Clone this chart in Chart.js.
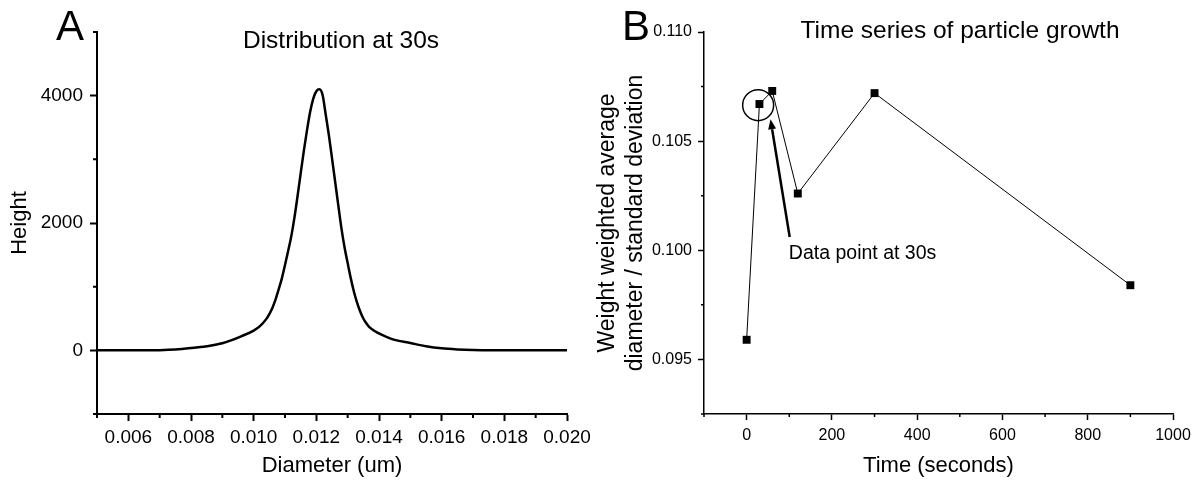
<!DOCTYPE html>
<html>
<head>
<meta charset="utf-8">
<script src="https://cdn.jsdelivr.net/npm/chart.js@4.4.1/dist/chart.umd.min.js"></script>
<style>
  body { margin: 0; background: #ffffff; }
  #wrap { position: relative; width: 1204px; height: 489px; overflow: hidden; }
  canvas { position: absolute; top: 0; }
  #dist-chart { left: 0; }
  #growth-chart { left: 585px; }
</style>
</head>
<body>
<div id="wrap">
  <canvas id="dist-chart" width="600" height="489"></canvas>
  <canvas id="growth-chart" width="619" height="489"></canvas>
</div>
<script>
// --- Panel A: size distribution at 30 s ---
const DIAMETER = [0.0050, 0.0060, 0.0070, 0.0075, 0.0080, 0.0085, 0.0090, 0.0093, 0.0096, 0.0100,
  0.0102, 0.0104, 0.0105, 0.0106, 0.0107, 0.0108, 0.0109, 0.0110, 0.0111, 0.0112,
  0.0113, 0.0114, 0.0115, 0.0116, 0.0117, 0.0118, 0.0119, 0.0120, 0.0121, 0.0122,
  0.0123, 0.0124, 0.0125, 0.0126, 0.0127, 0.0128, 0.0129, 0.0130, 0.0131, 0.0132,
  0.0133, 0.0134, 0.0135, 0.0136, 0.0137, 0.0140, 0.0142, 0.0145, 0.0150, 0.0155,
  0.0160, 0.0165, 0.0170, 0.0180, 0.0190, 0.0200];
const HEIGHT = [0, 0, 3, 12, 35, 65, 110, 160, 220, 310,
  380, 490, 570, 670, 800, 960, 1130, 1340, 1560, 1790,
  2080, 2420, 2780, 3130, 3450, 3740, 3950, 4070, 4100, 4010,
  3700, 3380, 3020, 2650, 2280, 1920, 1620, 1370, 1130, 920,
  750, 610, 500, 420, 360, 265, 220, 165, 115, 65,
  32, 15, 6, 2, 0, 0];
const DIAM_TICKS = [0.006, 0.008, 0.010, 0.012, 0.014, 0.016, 0.018, 0.020];
const DIAM_MINOR = [0.005, 0.007, 0.009, 0.011, 0.013, 0.015, 0.017, 0.019];
const HEIGHT_TICKS = [0, 2000, 4000];
const HEIGHT_MINOR = [-1000, 1000, 3000, 5000];

// --- Panel B: time series ---
const TIME_S = [0, 30, 60, 120, 300, 900];
const RATIO = [0.0959, 0.1067, 0.1073, 0.1026, 0.1072, 0.0984];
const TIME_TICKS = [0, 200, 400, 600, 800, 1000];
const TIME_MINOR = [-100, 100, 300, 500, 700, 900];
const RATIO_TICKS = [0.095, 0.100, 0.105, 0.110];
const RATIO_MINOR = [0.0925, 0.0975, 0.1025, 0.1075];

// annotation anchors (data units)
const CIRCLE_AT = [27, 0.10665];
const ARROW_TIP = [56, 0.1060];
const ARROW_TAIL = [101, 0.10061];
const NOTE_AT = [99, 0.09986];
const NOTE_TEXT = 'Data point at 30s';

const FONT = "'Liberation Sans', Arial, sans-serif";
Chart.defaults.font.family = FONT;
Chart.defaults.color = '#000';

function minorTicksPlugin(xVals, yVals, len, width) {
  return {
    id: 'minorTicks',
    afterDraw(chart) {
      const { ctx } = chart;
      const x = chart.scales.x, y = chart.scales.y;
      ctx.save();
      ctx.strokeStyle = '#000';
      ctx.lineWidth = width;
      ctx.beginPath();
      xVals.forEach(v => {
        const px = x.getPixelForValue(v);
        ctx.moveTo(px, x.top);
        ctx.lineTo(px, x.top + len);
      });
      yVals.forEach(v => {
        const py = y.getPixelForValue(v);
        ctx.moveTo(y.right, py);
        ctx.lineTo(y.right - len, py);
      });
      ctx.stroke();
      ctx.restore();
    }
  };
}

function headingPlugin(letter, letterX, title, titleX, titleY) {
  return {
    id: 'heading',
    afterDraw(chart) {
      const { ctx } = chart;
      ctx.save();
      ctx.fillStyle = '#000';
      ctx.textBaseline = 'alphabetic';
      ctx.textAlign = 'left';
      ctx.font = '42px ' + FONT;
      ctx.fillText(letter, letterX, 40);
      ctx.textAlign = 'center';
      ctx.font = '24.5px ' + FONT;
      ctx.fillText(title, titleX, titleY);
      ctx.restore();
    }
  };
}

const annotationPlugin = {
  id: 'note30s',
  afterDatasetsDraw(chart) {
    const { ctx } = chart;
    const x = chart.scales.x, y = chart.scales.y;
    ctx.save();
    ctx.strokeStyle = '#000';
    ctx.fillStyle = '#000';
    // circle round the 30 s point
    ctx.lineWidth = 1.5;
    ctx.beginPath();
    ctx.arc(x.getPixelForValue(CIRCLE_AT[0]), y.getPixelForValue(CIRCLE_AT[1]), 15.5, 0, Math.PI * 2);
    ctx.stroke();
    // arrow
    const hx = x.getPixelForValue(ARROW_TIP[0]), hy = y.getPixelForValue(ARROW_TIP[1]);
    const tx = x.getPixelForValue(ARROW_TAIL[0]), ty = y.getPixelForValue(ARROW_TAIL[1]);
    const ang = Math.atan2(hy - ty, hx - tx);
    const headLen = 10, headW = 4;
    const bx = hx - headLen * Math.cos(ang), by = hy - headLen * Math.sin(ang);
    ctx.lineWidth = 2.5;
    ctx.beginPath();
    ctx.moveTo(tx, ty);
    ctx.lineTo(bx, by);
    ctx.stroke();
    ctx.beginPath();
    ctx.moveTo(hx, hy);
    ctx.lineTo(bx + headW * Math.sin(ang), by - headW * Math.cos(ang));
    ctx.lineTo(bx - headW * Math.sin(ang), by + headW * Math.cos(ang));
    ctx.closePath();
    ctx.fill();
    // label
    ctx.font = '19.5px ' + FONT;
    ctx.textAlign = 'left';
    ctx.textBaseline = 'middle';
    ctx.fillText(NOTE_TEXT, x.getPixelForValue(NOTE_AT[0]), y.getPixelForValue(NOTE_AT[1]));
    ctx.restore();
  }
};

// --- Chart A ---
new Chart(document.getElementById('dist-chart').getContext('2d'), {
  type: 'line',
  data: {
    datasets: [{
      data: DIAMETER.map((d, i) => ({ x: d, y: HEIGHT[i] })),
      borderColor: '#000',
      borderWidth: 2.5,
      pointRadius: 0,
      cubicInterpolationMode: 'monotone',
      fill: false
    }]
  },
  options: {
    responsive: false,
    animation: false,
    layout: { padding: { top: 32, right: 33, left: 0, bottom: 0 } },
    plugins: { legend: { display: false }, tooltip: { enabled: false } },
    scales: {
      x: {
        type: 'linear',
        min: 0.005,
        max: 0.020,
        afterBuildTicks: s => { s.ticks = DIAM_TICKS.map(v => ({ value: v })); },
        afterFit: s => { s.height = 75; },
        ticks: { callback: v => v.toFixed(3), font: { size: 19 }, color: '#000', padding: 5, maxRotation: 0, autoSkip: false },
        grid: { drawOnChartArea: false, tickLength: 7, tickWidth: 2, tickColor: '#000' },
        border: { color: '#000', width: 2 },
        title: { display: true, text: 'Diameter (um)', font: { size: 22 }, color: '#000', padding: { top: 0, bottom: 10 } }
      },
      y: {
        type: 'linear',
        min: -1000,
        max: 5000,
        afterBuildTicks: s => { s.ticks = HEIGHT_TICKS.map(v => ({ value: v })); },
        afterFit: s => { s.width = 97; },
        ticks: { callback: v => String(v), font: { size: 19 }, color: '#000', padding: 7 },
        grid: { drawOnChartArea: false, tickLength: 7, tickWidth: 2, tickColor: '#000' },
        border: { color: '#000', width: 2 },
        title: { display: true, text: 'Height', font: { size: 22 }, color: '#000', padding: { top: 7, bottom: 0 } }
      }
    }
  },
  plugins: [minorTicksPlugin(DIAM_MINOR, HEIGHT_MINOR, 4, 2), headingPlugin('A', 56, 'Distribution at 30s', 341, 48)]
});

// --- Chart B ---
new Chart(document.getElementById('growth-chart').getContext('2d'), {
  type: 'line',
  data: {
    datasets: [{
      data: TIME_S.map((t, i) => ({ x: t, y: RATIO[i] })),
      borderColor: '#000',
      borderWidth: 1,
      pointStyle: 'rect',
      pointRadius: 5.6,
      pointBackgroundColor: '#000',
      pointBorderWidth: 0,
      tension: 0,
      fill: false
    }]
  },
  options: {
    responsive: false,
    animation: false,
    layout: { padding: { top: 32, right: 31, left: 0, bottom: 0 } },
    plugins: { legend: { display: false }, tooltip: { enabled: false } },
    scales: {
      x: {
        type: 'linear',
        min: -100,
        max: 1000,
        afterBuildTicks: s => { s.ticks = TIME_TICKS.map(v => ({ value: v })); },
        afterFit: s => { s.height = 75; },
        ticks: { callback: v => String(v), font: { size: 16 }, color: '#000', padding: 6, maxRotation: 0, autoSkip: false },
        grid: { drawOnChartArea: false, tickLength: 6, tickWidth: 1.5, tickColor: '#000' },
        border: { color: '#000', width: 1.5 },
        title: { display: true, text: 'Time (seconds)', font: { size: 22 }, color: '#000', padding: { top: 0, bottom: 10 } }
      },
      y: {
        type: 'linear',
        min: 0.0925,
        max: 0.110,
        afterBuildTicks: s => { s.ticks = RATIO_TICKS.map(v => ({ value: v })); },
        afterFit: s => { s.width = 119; },
        ticks: { callback: v => v.toFixed(3), font: { size: 16 }, color: '#000', padding: 6 },
        grid: { drawOnChartArea: false, tickLength: 6, tickWidth: 1.5, tickColor: '#000' },
        border: { color: '#000', width: 1.5 },
        title: {
          display: true,
          text: ['Weight weighted average', 'diameter / standard deviation'],
          font: { size: 23, lineHeight: 1.25 }, color: '#000', padding: { top: 8, bottom: 0 }
        }
      }
    }
  },
  plugins: [minorTicksPlugin(TIME_MINOR, RATIO_MINOR, 3, 1.5), annotationPlugin, headingPlugin('B', 37, 'Time series of particle growth', 375, 38)]
});
</script>
</body>
</html>
